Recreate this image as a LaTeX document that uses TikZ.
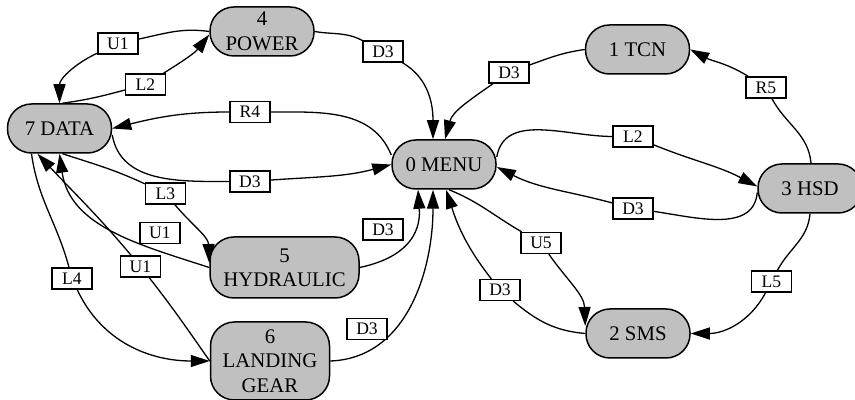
\documentclass[tikz,border=0pt]{standalone}
\usepackage{fontspec}
\setmainfont{Liberation Serif}
\usetikzlibrary{arrows.meta,backgrounds}
\definecolor{stategray}{RGB}{192,192,192}

\begin{document}
\begin{tikzpicture}[x=0.5pt, y=0.5pt,
        state/.style={draw=black, line width=0.75pt, fill=stategray, rounded corners=12pt, minimum width=52pt, minimum height=24.5pt, inner sep=1pt, align=center, font=\fontsize{10.4}{12.2}\selectfont},
        key/.style={draw=black, line width=0.6pt, fill=white, minimum width=20pt, minimum height=10.5pt, inner sep=0pt, font=\fontsize{8.8}{10}\selectfont},
        flow/.style={-{Triangle[length=9.5pt,width=6pt]}, line width=0.65pt}
    ]
        \useasboundingbox (0,0) rectangle (855,400);

        \node[state] (power) at (262,368.5) {4\\POWER};
        \node[state] (data) at (59.5,271.5) {7 DATA};
        \node[state] (menu) at (444,235.5) {0 MENU};
        \node[state] (tcn) at (637.5,350.5) {1 TCN};
        \node[state] (hsd) at (810,211.5) {3 HSD};
        \node[state] (sms) at (638,66.5) {2 SMS};
        \node[state, minimum width=74.5pt, minimum height=30.5pt] (hyd) at (284.5,132.5) {5\\HYDRAULIC};
        \node[state, minimum width=59.5pt, minimum height=39pt] (gear) at (270,39) {6\\LANDING\\GEAR};

        \node[key] (d3pm) at (383,348.5) {D3};
        \node[key] (l2dp) at (145.5,315.5) {L2};
        \node[key] (u1pd) at (118,356.5) {U1};
        \node[key] (r4md) at (250,288) {R4};
        \node[key] (d3dm) at (250,218.5) {D3};
        \node[key] (l3dh) at (165.5,206.5) {L3};
        \node[key] (u1hd) at (160,167) {U1};
        \node[key] (u1gd) at (140.5,133.5) {U1};
        \node[key] (l4dg) at (72,121.5) {L4};
        \node[key] (d3hm) at (383,170.5) {D3};
        \node[key] (d3gm) at (367,71) {D3};
        \node[key] (d3sm) at (500,110) {D3};
        \node[key] (u5ms) at (541,157) {U5};
        \node[key] (d3tm) at (509,327.5) {D3};
        \node[key] (r5ht) at (766,312.5) {R5};
        \node[key] (l2mh) at (633,263.5) {L2};
        \node[key] (d3xm) at (633,191.5) {D3};
        \node[key] (l5hs) at (771.5,118.5) {L5};

        \begin{pgfonlayer}{background}
        \draw[flow] (power.east) to[out=-10,in=152] (d3pm) to[out=-30,in=90] ([xshift=-5.5pt]menu.north);
        \draw[flow] ([xshift=1.5pt]data.north) to[out=8,in=195] (l2dp) to[out=32,in=-128] ([yshift=-1.5pt]power.west);
        \draw[flow] (power.west) to[out=172,in=12] (u1pd) to[out=205,in=90] (data.north);
        \draw[flow] ([yshift=4.75pt]menu.west) to[out=112,in=0] (r4md) to[out=180,in=14] (data.east);
        \draw[flow] ([yshift=-3.25pt]data.east) to[out=-80,in=180] (d3dm) to[out=4,in=195] (menu.west);
        \draw[flow] ([xshift=1.5pt]data.south) to[out=-18,in=155] (l3dh) to[out=-50,in=92] ([yshift=2.25pt]hyd.west);
        \draw[flow] (hyd.west) to[out=162,in=-82] (data.south);
        \draw[flow] (gear.west) to[out=125,in=-52] (u1gd) to[out=130,in=-47] ([xshift=-11pt]data.south);
        \draw[flow] ([xshift=-14pt]data.south) to[out=-82,in=105] (l4dg) to[out=-65,in=180] (gear.west);
        \draw[flow] (hyd.east) to[out=12,in=-86,looseness=1.2] ([xshift=-13pt]menu.south);
        \draw[flow] (gear.east) to[out=2,in=-90] ([xshift=-5.5pt]menu.south);
        \draw[flow] (sms.west) to[out=175,in=-40] (d3sm) to[out=128,in=-72] ([xshift=1pt]menu.south);
        \draw[flow] ([xshift=2.5pt]menu.south) to[out=-22,in=150] (u5ms) to[out=-55,in=92] ([yshift=3.75pt]sms.west);
        \draw[flow] (tcn.west) to[out=188,in=20] (d3tm) to[out=215,in=75] ([xshift=0.5pt]menu.north);
        \draw[flow] ([xshift=0.5pt]hsd.north) to[out=95,in=-62] (r5ht) to[out=148,in=-28] (tcn.east);
        \draw[flow] ([yshift=3.75pt]menu.east) to[out=80,in=180] (l2mh) to[out=-22,in=152] ([yshift=1pt]hsd.west);
        \draw[flow] ([yshift=-2pt]hsd.west) to[out=-95,in=-8] (d3xm) to[out=165,in=-27] ([yshift=-1.25pt]menu.east);
        \draw[flow] (hsd.south) to[out=-95,in=62] (l5hs) to[out=-118,in=0] (sms.east);
        \end{pgfonlayer}
    \end{tikzpicture}
\end{document}
